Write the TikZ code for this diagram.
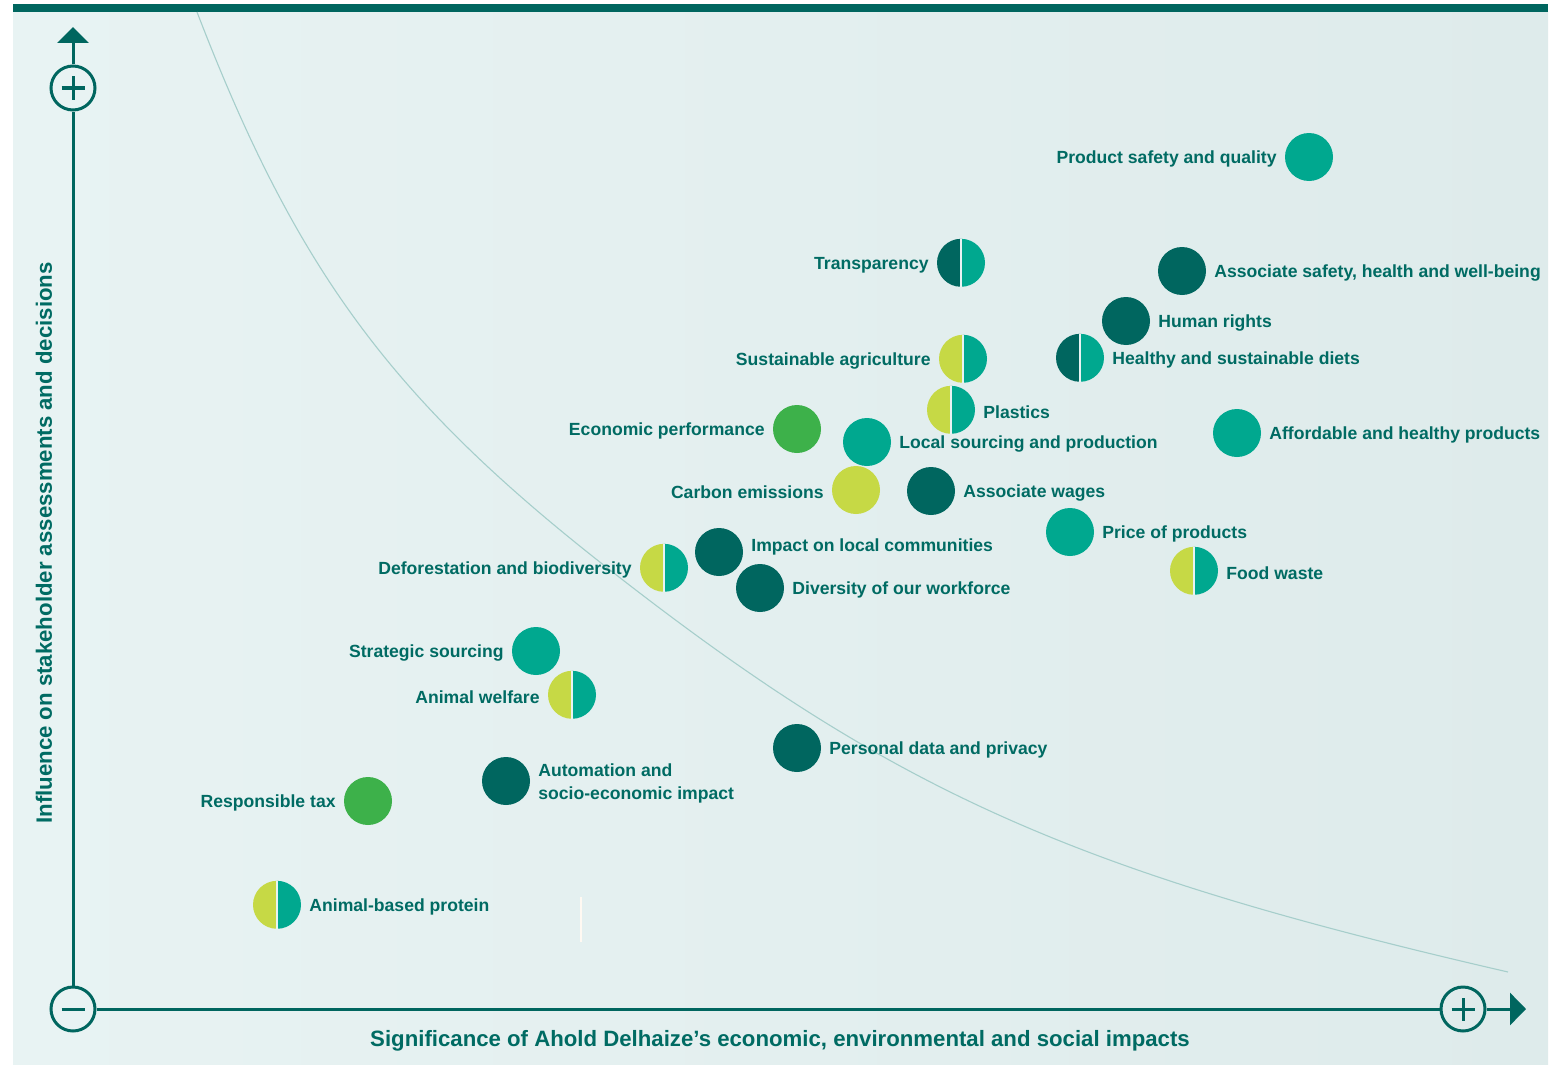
\documentclass[tikz,border=0pt]{standalone}
\usepackage{fontspec}
\setmainfont{Liberation Sans}
\usepackage{tikz}
\usetikzlibrary{positioning,arrows.meta}

\definecolor{adDark}{HTML}{00665F}
\definecolor{adTeal}{HTML}{00A88F}
\definecolor{adLime}{HTML}{C6D945}
\definecolor{adGreen}{HTML}{3DB14A}
\definecolor{adText}{HTML}{006B63}
\definecolor{panelL}{HTML}{E8F3F3}
\definecolor{panelR}{HTML}{DEEBEB}
\definecolor{curvecol}{HTML}{A6CECB}

\tikzset{
  bubble/.style={circle, fill=#1, minimum size=48pt, inner sep=0pt},
  halfbubble/.style={circle, minimum size=48pt, inner sep=0pt},
  tag/.style={text=adText, font=\fontsize{17.6}{23}\selectfont\bfseries, inner sep=0pt, align=left, yshift=-2pt},
  axtitle/.style={text=adText, font=\fontsize{22.2}{25}\selectfont\bfseries, inner sep=0pt},
  axcirc/.style={circle, draw=adDark, line width=3pt, minimum size=44pt, inner sep=0pt},
  axisline/.style={adDark, line width=3pt},
}

% two-colour bubble: node name, left colour, right colour
\newcommand{\halves}[3]{%
  \fill[#2] (#1.north) arc[start angle=90, end angle=270, radius=24pt] -- cycle;
  \fill[#3] (#1.north) arc[start angle=90, end angle=-90, radius=24pt] -- cycle;
  \draw[panelL, line width=2.4pt] (#1.south) -- (#1.north);
}

\begin{document}
\begin{tikzpicture}[x=1pt, y=-1pt, line cap=butt]
  \useasboundingbox (0,0) rectangle (1553,1065);

  % panel and top bar
  \shade[left color=panelL, right color=panelR] (13,12) rectangle (1548,1065);
  \fill[adDark] (13,4) rectangle (1548,12);

  % materiality threshold
  \draw[curvecol, line width=1.1pt] (197,12) .. controls (297,271.5) and (392,400) .. (610,570)
    .. controls (894,792) and (1074,872) .. (1508,972);

  \draw[white!80!orange!25, line width=2pt] (581,897) -- (581,942);

  % axes
  \node[axcirc] (origin) at (73,1009) {};
  \node[axcirc] (ymax) at (73,88) {};
  \node[axcirc] (xmax) at (1463,1009) {};
  \coordinate (ytip) at (73,27);
  \coordinate (xtip) at (1526,1009);

  \draw[axisline] (origin) -- (ymax);
  \draw[axisline] (origin) -- (xmax);
  \draw[axisline, -{Triangle[length=16pt,width=31pt]}] (ymax) -- (ytip);
  \draw[axisline, -{Triangle[length=16pt,width=32pt]}] (xmax) -- (xtip);

  \draw[axisline] ([xshift=-11.5pt]origin.center) -- ([xshift=11.5pt]origin.center);
  \draw[axisline] ([xshift=-11.5pt]ymax.center) -- ([xshift=11.5pt]ymax.center);
  \draw[axisline] ([yshift=-11.5pt]ymax.center) -- ([yshift=11.5pt]ymax.center);
  \draw[axisline] ([xshift=-11.5pt]xmax.center) -- ([xshift=11.5pt]xmax.center);
  \draw[axisline] ([yshift=-11.5pt]xmax.center) -- ([yshift=11.5pt]xmax.center);

  \node[axtitle] (xtitle) at (780,1041) {Significance of Ahold Delhaize’s economic, environmental and social impacts};
  \node[axtitle, rotate=90] (ytitle) at (44,543) {Influence on stakeholder assessments and decisions};

  % topics
  \node[bubble=adTeal] (safety) at (1309,157) {};
  \node[tag, left=8pt of safety] {Product safety and quality};

  \node[halfbubble] (transp) at (961,263) {};
  \halves{transp}{adDark}{adTeal}
  \node[tag, left=8pt of transp] {Transparency};

  \node[bubble=adDark] (assoc) at (1182,271) {};
  \node[tag, right=8pt of assoc] {Associate safety, health and well-being};

  \node[bubble=adDark] (hrights) at (1126,321) {};
  \node[tag, right=8pt of hrights] {Human rights};

  \node[halfbubble] (agri) at (963,359) {};
  \halves{agri}{adLime}{adTeal}
  \node[tag, left=8pt of agri] {Sustainable agriculture};

  \node[halfbubble] (diets) at (1080,358) {};
  \halves{diets}{adDark}{adTeal}
  \node[tag, right=8pt of diets] {Healthy and sustainable diets};

  \node[halfbubble] (plastics) at (951,410) {};
  \halves{plastics}{adLime}{adTeal}
  \node[tag, right=8pt of plastics] {Plastics};

  \node[bubble=adGreen] (econ) at (797,429) {};
  \node[tag, left=8pt of econ] {Economic performance};

  \node[bubble=adTeal] (local) at (867,442) {};
  \node[tag, right=8pt of local] {Local sourcing and production};

  \node[bubble=adTeal] (afford) at (1237,433) {};
  \node[tag, right=8pt of afford] {Affordable and healthy products};

  \node[bubble=adLime] (carbon) at (856,490) {};
  \node[tag, left=8pt of carbon] {Carbon emissions};

  \node[bubble=adDark] (wages) at (931,491) {};
  \node[tag, right=8pt of wages] {Associate wages};

  \node[bubble=adTeal] (price) at (1070,532) {};
  \node[tag, right=8pt of price] {Price of products};

  \node[bubble=adDark] (impact) at (719,552) {};
  \node[tag, right=8pt of impact, yshift=7pt] {Impact on local communities};

  \node[halfbubble] (defor) at (664,568) {};
  \halves{defor}{adLime}{adTeal}
  \node[tag, left=8pt of defor] {Deforestation and biodiversity};

  \node[bubble=adDark] (divers) at (760,588) {};
  \node[tag, right=8pt of divers] {Diversity of our workforce};

  \node[halfbubble] (waste) at (1194,571) {};
  \halves{waste}{adLime}{adTeal}
  \node[tag, right=8pt of waste] {Food waste};

  \node[bubble=adTeal] (strat) at (536,651) {};
  \node[tag, left=8pt of strat] {Strategic sourcing};

  \node[halfbubble] (welfare) at (572,695) {};
  \halves{welfare}{adLime}{adTeal}
  \node[tag, left=8pt of welfare] {Animal welfare};

  \node[bubble=adDark] (privacy) at (797,748) {};
  \node[tag, right=8pt of privacy] {Personal data and privacy};

  \node[bubble=adDark] (autom) at (506,781) {};
  \node[tag, right=8pt of autom] {Automation and\\socio-economic impact};

  \node[bubble=adGreen] (tax) at (368,801) {};
  \node[tag, left=8pt of tax] {Responsible tax};

  \node[halfbubble] (protein) at (277,905) {};
  \halves{protein}{adLime}{adTeal}
  \node[tag, right=8pt of protein] {Animal-based protein};
\end{tikzpicture}
\end{document}
